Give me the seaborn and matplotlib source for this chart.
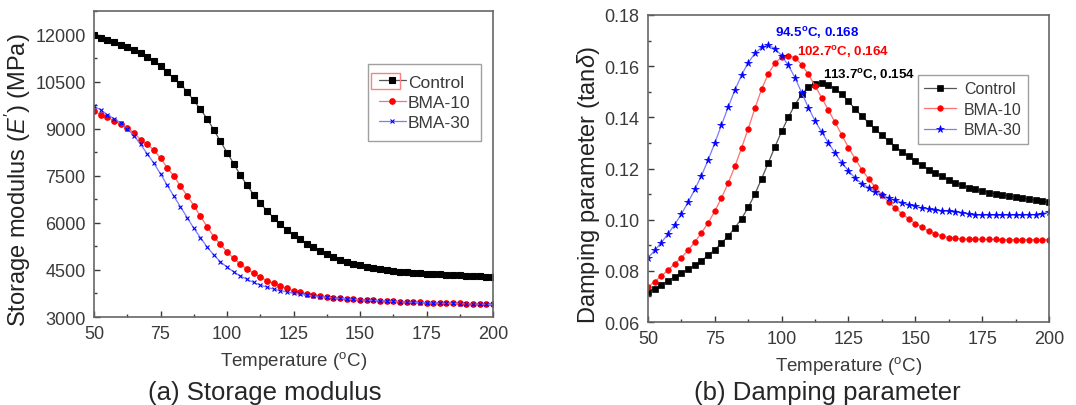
import numpy as np
import pandas as pd
import matplotlib
matplotlib.use('Agg')
import matplotlib.pyplot as plt
import seaborn as sns
from matplotlib.patches import Rectangle
from matplotlib.ticker import MultipleLocator

# Temperature grid (2.5 °C steps, 50-200 °C)
temperatura = np.arange(50, 200.1, 2.5)

# Storage modulus E' (MPa)
e_control = [11980, 11890, 11840, 11770, 11660, 11590, 11500, 11400, 11290, 11160,
             10990, 10810, 10600, 10440, 10170, 9900, 9620, 9320, 8970, 8600,
             8240, 7890, 7520, 7200, 6900, 6630, 6380, 6170, 5950, 5780,
             5620, 5470, 5340, 5220, 5100, 5010, 4910, 4830, 4750, 4690,
             4650, 4600, 4560, 4530, 4500, 4470, 4450, 4420, 4400, 4390,
             4380, 4370, 4360, 4350, 4340, 4330, 4320, 4310, 4300, 4290, 4280]
e_bma10 = [9560, 9450, 9370, 9250, 9150, 9020, 8870, 8650, 8500, 8320,
           8060, 7760, 7490, 7170, 6870, 6550, 6210, 5880, 5560, 5320,
           5070, 4870, 4690, 4530, 4390, 4270, 4160, 4070, 3990, 3910,
           3840, 3790, 3740, 3700, 3670, 3640, 3620, 3600, 3585, 3570,
           3555, 3540, 3530, 3520, 3510, 3500, 3490, 3480, 3470, 3465,
           3460, 3455, 3450, 3445, 3440, 3435, 3430, 3425, 3420, 3415, 3410]
e_bma30 = [9720, 9600, 9450, 9320, 9180, 9000, 8780, 8500, 8200, 7900,
           7560, 7200, 6850, 6510, 6170, 5830, 5530, 5230, 4980, 4760,
           4590, 4440, 4310, 4200, 4100, 4020, 3950, 3890, 3840, 3800,
           3760, 3730, 3700, 3675, 3650, 3630, 3610, 3595, 3580, 3565,
           3550, 3540, 3530, 3520, 3510, 3500, 3490, 3480, 3470, 3462,
           3455, 3450, 3445, 3440, 3435, 3430, 3425, 3420, 3415, 3410, 3400]

# Damping parameter tan delta
tan_control = [0.0718, 0.0730, 0.0745, 0.0762, 0.0776, 0.0791, 0.0806, 0.0822, 0.0840, 0.0860,
               0.0883, 0.0908, 0.0936, 0.0968, 0.1004, 0.1048, 0.1100, 0.1160, 0.1222, 0.1285,
               0.1345, 0.1400, 0.1450, 0.1490, 0.1518, 0.1532, 0.1534, 0.1527, 0.1512, 0.1490,
               0.1462, 0.1432, 0.1405, 0.1379, 0.1354, 0.1330, 0.1308, 0.1286, 0.1266, 0.1248,
               0.1230, 0.1212, 0.1196, 0.1182, 0.1169, 0.1157, 0.1145, 0.1134, 0.1125, 0.1118,
               0.1112, 0.1106, 0.1101, 0.1097, 0.1092, 0.1088, 0.1084, 0.1080, 0.1076, 0.1072, 0.1068]
tan_bma10 = [0.0737, 0.0758, 0.0780, 0.0803, 0.0827, 0.0852, 0.0880, 0.0912, 0.0948, 0.0988,
             0.1033, 0.1085, 0.1143, 0.1208, 0.1280, 0.1356, 0.1435, 0.1510, 0.1570, 0.1612,
             0.1635, 0.1641, 0.1633, 0.1606, 0.1568, 0.1523, 0.1476, 0.1428, 0.1380, 0.1331,
             0.1282, 0.1238, 0.1196, 0.1160, 0.1127, 0.1097, 0.1069, 0.1045, 0.1023, 0.1004,
             0.0985, 0.0970, 0.0956, 0.0945, 0.0936, 0.0930, 0.0927, 0.0925, 0.0924, 0.0924,
             0.0923, 0.0923, 0.0923, 0.0922, 0.0922, 0.0922, 0.0922, 0.0922, 0.0922, 0.0922, 0.0922]
tan_bma30 = [0.0850, 0.0880, 0.0910, 0.0945, 0.0981, 0.1022, 0.1068, 0.1118, 0.1172, 0.1233,
             0.1300, 0.1370, 0.1440, 0.1506, 0.1565, 0.1614, 0.1650, 0.1673, 0.1682, 0.1669,
             0.1641, 0.1603, 0.1555, 0.1496, 0.1438, 0.1386, 0.1342, 0.1300, 0.1260, 0.1223,
             0.1191, 0.1162, 0.1141, 0.1125, 0.1110, 0.1097, 0.1085, 0.1076, 0.1067, 0.1059,
             0.1052, 0.1046, 0.1041, 0.1037, 0.1034, 0.1033, 0.1031, 0.1028, 0.1021, 0.1018,
             0.1018, 0.1018, 0.1018, 0.1018, 0.1018, 0.1018, 0.1018, 0.1019, 0.1020, 0.1024, 0.1029]

amostras = ['Control', 'BMA-10', 'BMA-30']
picos_temp = [113.7, 102.7, 94.5]
picos_tan = [0.154, 0.164, 0.168]

sns.set_theme(style='ticks')
plt.rcParams['font.family'] = ['Liberation Sans', 'DejaVu Sans']
plt.rcParams['mathtext.fontset'] = 'custom'
plt.rcParams['mathtext.rm'] = 'Liberation Sans'
plt.rcParams['mathtext.it'] = 'Liberation Sans:italic'
plt.rcParams['mathtext.default'] = 'regular'

# estilo de cada amostra: (cor da linha, cor do marcador, marcador)
estilos = {
    'Control': ('#555555', 'black', 's'),
    'BMA-10': ('#ff7070', 'red', 'o'),
    'BMA-30': ('#7a7aff', 'blue', '*'),
}

fig = plt.figure(figsize=(10.76, 4.06), dpi=100)
ax1 = fig.add_axes([0.0874, 0.2167, 0.3708, 0.7537])
ax2 = fig.add_axes([0.6022, 0.2044, 0.3727, 0.7562])

df_e = pd.DataFrame({'T': temperatura, 'Control': e_control, 'BMA-10': e_bma10, 'BMA-30': e_bma30})
df_t = pd.DataFrame({'T': temperatura, 'Control': tan_control, 'BMA-10': tan_bma10, 'BMA-30': tan_bma30})

for nome in amostras:
    cor_linha, cor_marca, marca = estilos[nome]
    marca1 = 'x' if nome == 'BMA-30' else marca
    tam1 = 3.5 if nome == 'BMA-30' else 4
    sns.lineplot(data=df_e, x='T', y=nome, ax=ax1, color=cor_linha, linewidth=0.9,
                 marker=marca1, markersize=tam1, markerfacecolor=cor_marca,
                 markeredgecolor=cor_marca, markeredgewidth=0.8, label=nome)
    tam2 = 5.5 if nome == 'BMA-30' else 4
    sns.lineplot(data=df_t, x='T', y=nome, ax=ax2, color=cor_linha, linewidth=0.9,
                 marker=marca, markersize=tam2, markerfacecolor=cor_marca,
                 markeredgecolor=cor_marca, markeredgewidth=0.5, label=nome)

cinza = '#3a3a3a'
for ax in (ax1, ax2):
    ax.set_xlim(50, 200)
    ax.xaxis.set_major_locator(MultipleLocator(25))
    ax.xaxis.set_minor_locator(MultipleLocator(12.5))
    ax.tick_params(which='both', direction='in', labelsize=13, colors=cinza, width=1, pad=6)
    ax.tick_params(which='major', length=4)
    ax.tick_params(which='minor', length=2.5)
    for s in ax.spines.values():
        s.set_color('#666666')
        s.set_linewidth(1.2)
    ax.set_xlabel('Temperature ($^{o}$C)', fontsize=13.5, color=cinza, labelpad=5)

ax1.set_ylim(3000, 12750)
ax1.yaxis.set_major_locator(MultipleLocator(1500))
ax1.yaxis.set_minor_locator(MultipleLocator(750))
ax1.set_ylabel("Storage modulus ($\\it{E'}$) (MPa)", fontsize=17, color='#222222')
ax1.yaxis.set_label_coords(-0.153, 0.45)

ax2.set_ylim(0.06, 0.18)
ax2.yaxis.set_major_locator(MultipleLocator(0.02))
ax2.yaxis.set_minor_locator(MultipleLocator(0.01))
ax2.yaxis.set_major_formatter(matplotlib.ticker.FormatStrFormatter('%.2f'))
ax2.set_ylabel('Damping parameter (tan$\\it{\\delta}$)', fontsize=17, color='#222222')
ax2.yaxis.set_label_coords(-0.115, 0.45)

leg1 = ax1.legend(loc='upper left', bbox_to_anchor=(0.687, 0.827), fontsize=12.5, frameon=True,
                  fancybox=False, edgecolor='#888888', handlelength=1.6, handletextpad=0.1,
                  borderpad=0.6, labelspacing=0.3, borderaxespad=0)
leg1.get_frame().set_linewidth(1)
leg2 = ax2.legend(loc='upper left', bbox_to_anchor=(0.673, 0.805), fontsize=11.5, frameon=True,
                  fancybox=False, edgecolor='#888888', handlelength=2.0, handletextpad=0.5,
                  borderpad=0.4, labelspacing=0.35, borderaxespad=0)
leg2.get_frame().set_linewidth(1)
for t in leg1.get_texts() + leg2.get_texts():
    t.set_color(cinza)

# destaque vermelho em volta do simbolo "Control" (como na figura original)
fig.patches.append(Rectangle((371 / 1076, 1 - 90 / 406), 29 / 1076, 16 / 406,
                             transform=fig.transFigure, fill=False, edgecolor='#ff8080', linewidth=1))

# Anotações dos picos
cores_pico = ['black', 'red', 'blue']
desloc = [(1.8, 0.0029), (3.0, 0.0019), (3.0, 0.0054)]
for tp, vp, cor, (dx, dy) in zip(picos_temp, picos_tan, cores_pico, desloc):
    ax2.text(tp + dx, vp + dy, f'{tp}$^{{o}}$C, {vp:.3f}', color=cor,
             fontsize=9.6, fontweight='bold', ha='left', va='center')

fig.text(265 / 1076, 1 - 393 / 406, '(a) Storage modulus', fontsize=18.5, ha='center', va='center')
fig.text(827 / 1076, 1 - 393 / 406, '(b) Damping parameter', fontsize=18.5, ha='center', va='center')

plt.savefig('out.png', dpi=100)
